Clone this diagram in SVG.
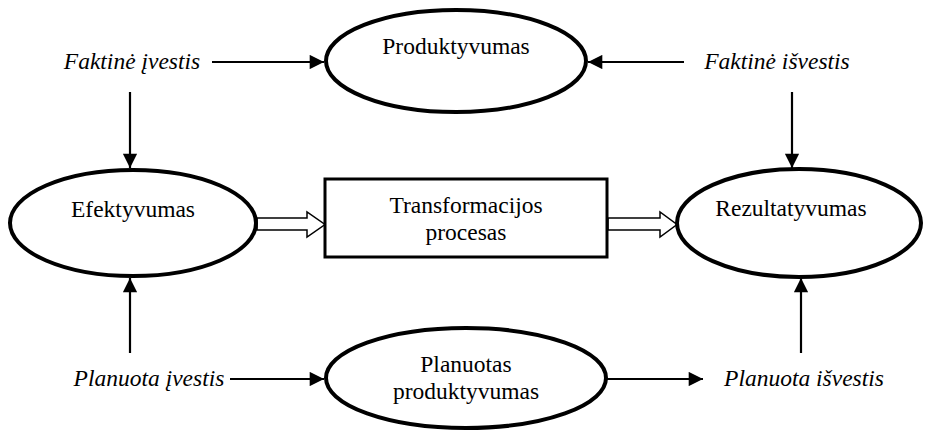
<svg xmlns="http://www.w3.org/2000/svg" width="925" height="431" viewBox="0 0 925 431">
<style>
text{font-family:"Liberation Serif","Times New Roman",serif;font-size:23.5px;fill:#000;text-anchor:middle}
.it{font-style:italic}
.node{fill:#fff;stroke:#000;stroke-width:4}
.box{fill:#fff;stroke:#000;stroke-width:3}
.ln{stroke:#000;stroke-width:2.2;fill:none}
.hol{fill:#fff;stroke:#000;stroke-width:1.5}
</style>
<defs>
<marker id="ah" viewBox="0 0 10 10" refX="10" refY="5" markerWidth="7.5" markerHeight="6.5" markerUnits="strokeWidth" orient="auto">
<path d="M0,0 L10,5 L0,10 Z" fill="#000"/>
</marker>
</defs>
<rect width="925" height="431" fill="#fff"/>
<g id="connectors">
<line class="ln" x1="212" y1="62" x2="324" y2="62" marker-end="url(#ah)"/>
<line class="ln" x1="684" y1="62" x2="588" y2="62" marker-end="url(#ah)"/>
<line class="ln" x1="130" y1="92" x2="130" y2="168" marker-end="url(#ah)"/>
<line class="ln" x1="792" y1="92" x2="792" y2="168" marker-end="url(#ah)"/>
<line class="ln" x1="130" y1="353" x2="130" y2="278" marker-end="url(#ah)"/>
<line class="ln" x1="801" y1="353" x2="801" y2="278" marker-end="url(#ah)"/>
<line class="ln" x1="230" y1="379" x2="324" y2="379" marker-end="url(#ah)"/>
<line class="ln" x1="607" y1="379" x2="703" y2="379" marker-end="url(#ah)"/>
<path class="hol" d="M257,218 L307,218 L307,212 L325,224.5 L307,237 L307,230 L257,230 Z"/>
<path class="hol" d="M608,218 L660,218 L660,212 L677,224.5 L660,237 L660,230 L608,230 Z"/>
</g>
<g id="produktyvumas">
<ellipse class="node" cx="456" cy="61" rx="130" ry="51"/>
<text x="456" y="54">Produktyvumas</text>
</g>
<g id="efektyvumas">
<ellipse class="node" cx="133" cy="223" rx="123" ry="53"/>
<text x="133" y="217">Efektyvumas</text>
</g>
<g id="transformacija">
<rect class="box" x="325" y="179" width="282" height="78"/>
<text x="466" y="213">Transformacijos</text>
<text x="466" y="240">procesas</text>
</g>
<g id="rezultatyvumas">
<ellipse class="node" cx="799" cy="223" rx="122" ry="54"/>
<text x="791" y="216">Rezultatyvumas</text>
</g>
<g id="planuotas">
<ellipse class="node" cx="466" cy="378" rx="140" ry="50"/>
<text x="466" y="372">Planuotas</text>
<text x="466" y="399">produktyvumas</text>
</g>
<g id="labels">
<text class="it" x="132" y="69">Faktinė įvestis</text>
<text class="it" x="777" y="69">Faktinė išvestis</text>
<text class="it" x="149" y="386">Planuota įvestis</text>
<text class="it" x="804" y="386">Planuota išvestis</text>
</g>
</svg>
